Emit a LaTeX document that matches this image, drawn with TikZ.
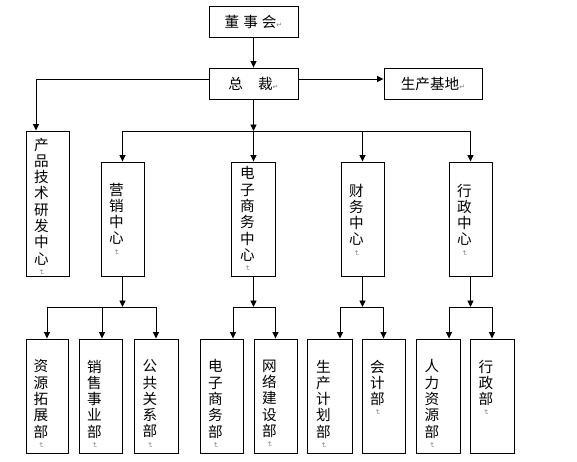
\documentclass[tikz,border=0pt]{standalone}
\usepackage{fontspec}
\newfontfamily\cjk{Noto Sans CJK SC}
\newfontfamily\djv{DejaVu Sans}
\usetikzlibrary{arrows.meta}
\newcommand\pmk{{\djv\fontsize{7}{7}\selectfont\color{gray}↵}}
\newcommand\vmk{{\djv\fontsize{7}{7}\selectfont\color{gray}\rotatebox[origin=c]{-90}{↵}}}
\lineskiplimit=-20pt
\begin{document}
\begin{tikzpicture}[x=1pt,y=-1pt,
  bx/.style n args={2}{draw, line width=0.9pt, inner sep=0pt, minimum width=#1, minimum height=#2,
     font=\cjk\fontsize{14.6}{16}\selectfont},
  vt/.style={inner sep=0pt, anchor=north, align=center,
     font=\cjk\fontsize{14.6}{16.3}\selectfont},
  ln/.style={line width=0.9pt},
  ar/.style={line width=0.9pt, -{Triangle[length=6.5pt,width=6pt]}}]
\useasboundingbox (0,0) rectangle (577,461);
% top
\node[bx={89}{31}] (dsh) at (253.5,21.5) {董\hspace{4pt}事\hspace{4pt}会\pmk};
\node[bx={89}{31}] (zc) at (253.5,83.5) {总\hspace{15pt}裁\pmk};
\node[bx={98}{31}] (scjd) at (433,83.5) {生产基地\pmk};
% second level
\node[bx={43}{145}] (cp) at (47.5,203.5) {};
\node[bx={43}{114}] (m1) at (122.5,219) {};
\node[bx={44}{114}] (m2) at (253.5,219) {};
\node[bx={43}{114}] (m3) at (362.5,219) {};
\node[bx={43}{114}] (m4) at (470.5,219) {};
\node[vt] (tcp) at ([xshift=-6pt,yshift=-7pt]cp.north) {产\\品\\技\\术\\研\\发\\中\\心\\[-6pt]\vmk};
\node[vt] (tm1) at ([xshift=-6pt,yshift=-21pt]m1.north) {营\\销\\中\\心\\[-6pt]\vmk};
\node[vt] (tm2) at ([xshift=-6pt,yshift=-5pt]m2.north) {电\\子\\商\\务\\中\\心\\[-6pt]\vmk};
\node[vt] (tm3) at ([xshift=-6pt,yshift=-22pt]m3.north) {财\\务\\中\\心\\[-6pt]\vmk};
\node[vt] (tm4) at ([xshift=-6pt,yshift=-22pt]m4.north) {行\\政\\中\\心\\[-6pt]\vmk};
% bottom level
\node[bx={42}{114}] (b1) at (47,396) {};
\node[bx={43}{114}] (b2) at (100.5,396) {};
\node[bx={44}{114}] (b3) at (156,396) {};
\node[bx={43}{114}] (b4) at (221.5,396) {};
\node[bx={43}{114}] (b5) at (275.5,396) {};
\node[bx={45}{114}] (b6) at (329.5,396) {};
\node[bx={43}{114}] (b7) at (383.5,396) {};
\node[bx={44}{114}] (b8) at (438,396) {};
\node[bx={44}{114}] (b9) at (492,396) {};
\node[vt] (tb1) at ([xshift=-6pt,yshift=-21pt]b1.north) {资\\源\\拓\\展\\部\\[-6pt]\vmk};
\node[vt] (tb2) at ([xshift=-6pt,yshift=-21pt]b2.north) {销\\售\\事\\业\\部\\[-6pt]\vmk};
\node[vt] (tb3) at ([xshift=-6pt,yshift=-21pt]b3.north) {公\\共\\关\\系\\部\\[-6pt]\vmk};
\node[vt] (tb4) at ([xshift=-6pt,yshift=-21pt]b4.north) {电\\子\\商\\务\\部\\[-6pt]\vmk};
\node[vt] (tb5) at ([xshift=-6pt,yshift=-21pt]b5.north) {网\\络\\建\\设\\部\\[-6pt]\vmk};
\node[vt] (tb6) at ([xshift=-6pt,yshift=-21pt]b6.north) {生\\产\\计\\划\\部\\[-6pt]\vmk};
\node[vt] (tb7) at ([xshift=-6pt,yshift=-21pt]b7.north) {会\\计\\部\\[-6pt]\vmk};
\node[vt] (tb8) at ([xshift=-6pt,yshift=-21pt]b8.north) {人\\力\\资\\源\\部\\[-6pt]\vmk};
\node[vt] (tb9) at ([xshift=-6pt,yshift=-21pt]b9.north) {行\\政\\部\\[-6pt]\vmk};
% connectors top
\draw[ar] (dsh) -- (zc);
\draw[ar] ([yshift=4.5pt]zc.east) -- ([yshift=4.5pt]scjd.west);
\draw[ar] ([yshift=4.5pt]zc.west) -| ([xshift=-11.5pt]cp.north);
\coordinate (bus) at (253.5,131);
\draw[ar] (zc) -- (bus);
\draw[ln] (m1.north |- bus) -- (m4.north |- bus);
\foreach \m in {m1,m2,m3,m4} \draw[ar] (\m.north |- bus) -- (\m.north);
% connectors bottom
\coordinate (bb) at (0,307);
\foreach \m in {m1,m2,m3,m4} \draw[ar] (\m.south) -- (\m.south |- bb);
\draw[ln] (b1.north |- bb) -- (b3.north |- bb);
\draw[ar] (b1.north |- bb) -- (b1.north);
\draw[ar] ([xshift=1.5pt]b2.north |- bb) -- ([xshift=1.5pt]b2.north);
\draw[ar] (b3.north |- bb) -- (b3.north);
\draw[ln] ([xshift=11.5pt]b4.north |- bb) -- (b5.north |- bb);
\draw[ar] ([xshift=11.5pt]b4.north |- bb) -- ([xshift=11.5pt]b4.north);
\draw[ar] (b5.north |- bb) -- (b5.north);
\draw[ln] ([xshift=10.5pt]b6.north |- bb) -- (b7.north |- bb);
\draw[ar] ([xshift=10.5pt]b6.north |- bb) -- ([xshift=10.5pt]b6.north);
\draw[ar] (b7.north |- bb) -- (b7.north);
\draw[ln] ([xshift=11pt]b8.north |- bb) -- (b9.north |- bb);
\draw[ar] ([xshift=11pt]b8.north |- bb) -- ([xshift=11pt]b8.north);
\draw[ar] (b9.north |- bb) -- (b9.north);
\end{tikzpicture}
\end{document}
